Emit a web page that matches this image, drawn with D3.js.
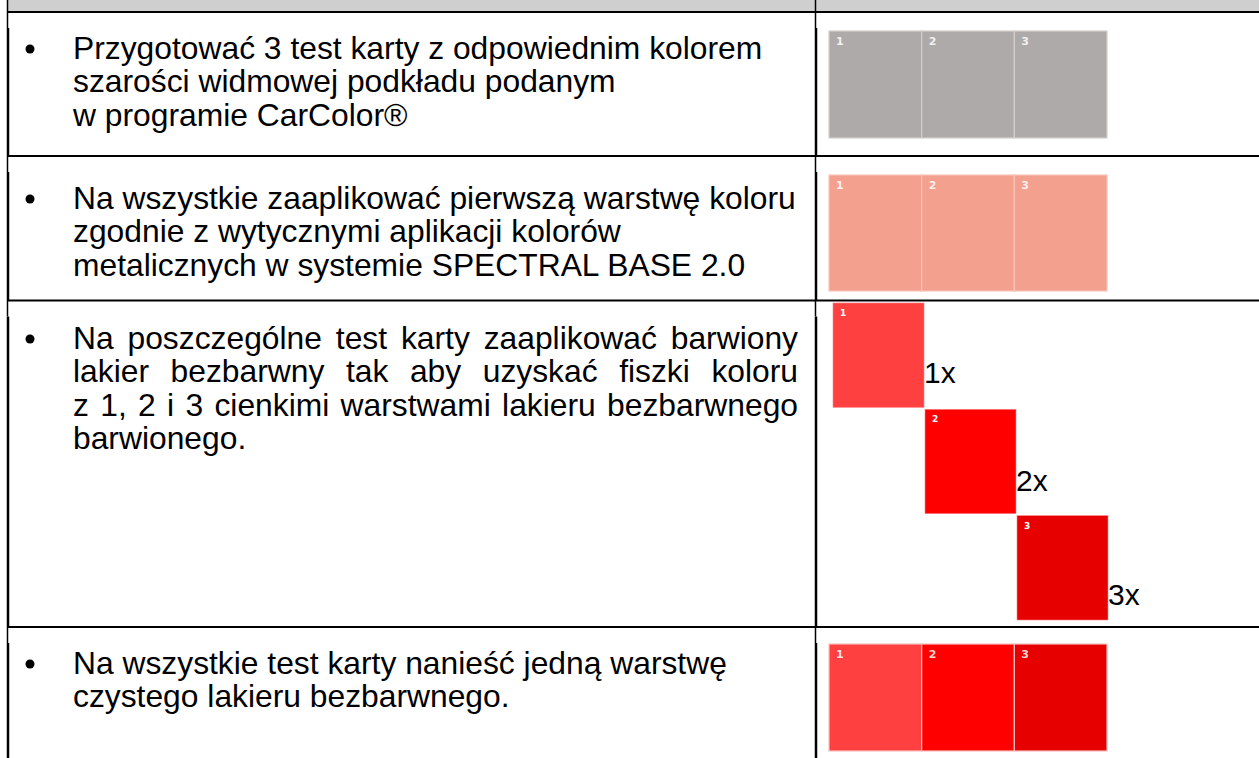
<!DOCTYPE html>
<html>
<head>
<meta charset="utf-8">
<script src="https://cdn.jsdelivr.net/npm/d3@7"></script>
<style>
  body { margin: 0; background: #fff; }
  svg { display: block; }
</style>
</head>
<body>
<script>
"use strict";
(function(){
  // text of each table row, one entry per printed line
  const rowLines = [
    ["Przygotować 3 test karty z odpowiednim kolorem",
     "szarości widmowej podkładu podanym",
     "w programie CarColor®"],
    ["Na wszystkie zaaplikować pierwszą warstwę koloru",
     "zgodnie z wytycznymi aplikacji kolorów",
     "metalicznych w systemie SPECTRAL BASE 2.0"],
    ["Na poszczególne test karty zaaplikować barwiony",
     "lakier bezbarwny tak aby uzyskać fiszki koloru",
     "z 1, 2 i 3 cienkimi warstwami lakieru bezbarwnego",
     "barwionego."],
    ["Na wszystkie test karty nanieść jedną warstwę",
     "czystego lakieru bezbarwnego."]
  ];
  const justified = [false, false, true, false];

  const cards = ["1", "2", "3"];
  const greyCards = ["#aeaaa9", "#aeaaa9", "#aeaaa9"];
  const baseCards = ["#f4a08f", "#f4a08f", "#f4a08f"];
  const clearCards = ["#ff4040", "#ff0000", "#e60000"];
  const coatLabels = ["1x", "2x", "3x"];

  const width = 1259, height = 758;
  const fontSize = 31.8;

  const svg = d3.select("body").append("svg")
      .attr("width", width)
      .attr("height", height)
      .style("font-family", "'Liberation Sans', Arial, sans-serif");

  // row boundaries of the table
  const rowTop = [12, 156, 300.5, 627, 770];
  const firstBaseline = [59, 209, 349, 674];
  const lineStep = 33.3;
  const leftX = 8, midX = 816, textX = 73, textRight = 798;

  // header strip
  svg.append("rect")
      .attr("x", leftX).attr("y", 0)
      .attr("width", width - leftX).attr("height", rowTop[0])
      .attr("fill", "#d0cfd0");

  // horizontal rules
  svg.selectAll(".hrule")
    .data(rowTop.slice(0, 4))
    .enter().append("line")
      .attr("x1", leftX - 1).attr("x2", width)
      .attr("y1", d => d).attr("y2", d => d)
      .attr("stroke", "#000").attr("stroke-width", 2);

  // vertical rules, thin for the first few px of each row
  [leftX, midX].forEach(function(x) {
    svg.append("line")
      .attr("x1", x - 0.5).attr("x2", x - 0.5)
      .attr("y1", 0).attr("y2", rowTop[0])
      .attr("stroke", "#000").attr("stroke-width", 1.5);
    for (let r = 0; r < 4; r++) {
      svg.append("line")
        .attr("x1", x - 0.5).attr("x2", x - 0.5)
        .attr("y1", rowTop[r]).attr("y2", rowTop[r] + 16)
        .attr("stroke", "#000").attr("stroke-width", 1.5);
      svg.append("line")
        .attr("x1", x).attr("x2", x)
        .attr("y1", rowTop[r] + 16).attr("y2", rowTop[r + 1])
        .attr("stroke", "#000").attr("stroke-width", 2.5);
    }
  });

  // text of each row
  rowLines.forEach(function(lines, r) {
    const g = svg.append("g").attr("font-size", fontSize + "px").attr("fill", "#000");
    g.append("circle")
      .attr("cx", 30).attr("cy", firstBaseline[r] - 10)
      .attr("r", 4.5);
    lines.forEach(function(line, i) {
      const y = firstBaseline[r] + i * lineStep;
      if (justified[r] && i < lines.length - 1) {
        // spread words across the column like a justified paragraph
        const words = line.split(" ");
        const nodes = words.map(w => g.append("text").attr("y", y).text(w));
        const widths = nodes.map(n => n.node().getComputedTextLength());
        const gap = (textRight - textX - d3.sum(widths)) / (words.length - 1);
        let x = textX;
        nodes.forEach(function(n, k) {
          n.attr("x", x);
          x += widths[k] + gap;
        });
      } else {
        g.append("text").attr("x", textX).attr("y", y).text(line);
      }
    });
  });

  // swatch strips
  const stripX = d3.scaleBand().domain(cards).range([829, 1107]).paddingInner(0);

  function strip(colors, y0, h, stroke) {
    const g = svg.append("g");
    g.selectAll("rect")
      .data(cards)
      .enter().append("rect")
        .attr("x", d => stripX(d))
        .attr("y", y0)
        .attr("width", stripX.bandwidth())
        .attr("height", h)
        .attr("fill", (d, i) => colors[i])
        .attr("stroke", stroke)
        .attr("stroke-width", 1.2);
    g.selectAll("text")
      .data(cards)
      .enter().append("text")
        .attr("x", d => stripX(d) + 7)
        .attr("y", y0 + 14)
        .attr("font-family", "'DejaVu Sans', Verdana, sans-serif")
        .attr("font-weight", "bold")
        .attr("font-size", "11px")
        .attr("fill", "#fff")
        .attr("fill-opacity", 0.85)
        .text(d => d);
  }

  strip(greyCards, 31, 107, "#d2cfce");
  strip(baseCards, 175, 116, "#f8c3b8");
  strip(clearCards, 644, 107, "#f9c0c0");

  // staircase of clear-coat cards
  const stepX = d3.scaleBand().domain(cards).range([833, 1109]);
  const stepY = d3.scaleBand().domain(cards).range([303, 622]);
  const labelDrop = [80, 82, 89];
  const sg = svg.append("g");
  sg.selectAll("rect")
    .data(cards)
    .enter().append("rect")
      .attr("x", d => stepX(d))
      .attr("y", d => stepY(d))
      .attr("width", stepX.bandwidth() - 1)
      .attr("height", stepY.bandwidth() - 2)
      .attr("fill", (d, i) => clearCards[i])
      .attr("stroke", "#ff8080")
      .attr("stroke-width", 0.6);
  sg.selectAll(".num")
    .data(cards)
    .enter().append("text")
      .attr("x", d => stepX(d) + 7)
      .attr("y", d => stepY(d) + 13)
      .attr("font-family", "'DejaVu Sans', Verdana, sans-serif")
      .attr("font-weight", "bold")
      .attr("font-size", "9px")
      .attr("fill", "#fff")
      .text(d => d);
  sg.selectAll(".coat")
    .data(coatLabels)
    .enter().append("text")
      .attr("x", (d, i) => stepX(cards[i]) + stepX.bandwidth() - 1)
      .attr("y", (d, i) => stepY(cards[i]) + labelDrop[i])
      .attr("font-size", "30px")
      .attr("fill", "#000")
      .text(d => d);
})()
</script>
</body>
</html>
